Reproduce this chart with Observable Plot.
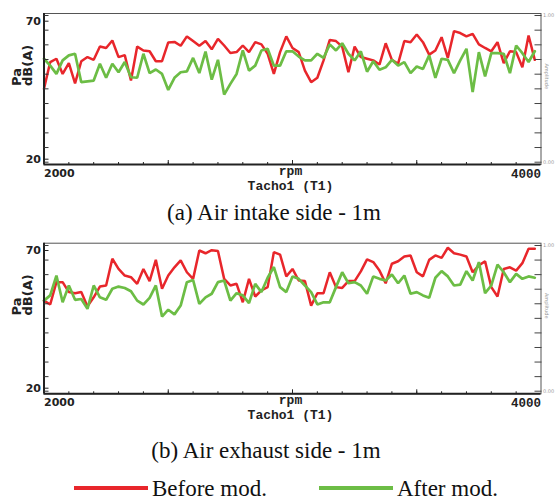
<!DOCTYPE html>
<html><head><meta charset="utf-8">
<script src="https://cdn.jsdelivr.net/npm/d3@7"></script>
<script src="https://cdn.jsdelivr.net/npm/@observablehq/plot@0.6"></script>
<style>
body{margin:0;background:#fff;}
#wrap{position:relative;width:556px;height:503px;overflow:hidden;background:#fff;}
.panel{position:absolute;left:0;}
.cap{position:absolute;left:0;width:556px;text-align:center;font-family:"Liberation Serif","Times New Roman",serif;font-size:23px;line-height:26px;color:#111;}
.leg{position:absolute;font-family:"Liberation Serif","Times New Roman",serif;font-size:23px;line-height:26px;color:#111;}
.legline{position:absolute;height:4px;}
</style></head><body><div id="wrap"></div>
<script>
const rpm = [2000,2025,2050,2075,2100,2125,2150,2175,2200,2225,2250,2275,2300,2325,2350,2375,2400,2425,2450,2475,2500,2525,2550,2575,2600,2625,2650,2675,2700,2725,2750,2775,2800,2825,2850,2875,2900,2925,2950,2975,3000,3025,3050,3075,3100,3125,3150,3175,3200,3225,3250,3275,3300,3325,3350,3375,3400,3425,3450,3475,3500,3525,3550,3575,3600,3625,3650,3675,3700,3725,3750,3775,3800,3825,3850,3875,3900,3925,3950,3975];
const intakeBefore = [45.5,55.2,56.4,50.9,54.8,47.5,55.5,57.0,56.0,60.8,60.3,63.0,57.0,57.7,48.5,60.8,59.4,59.1,55.5,55.5,62.3,62.5,61.1,64.5,62.8,61.1,62.8,59.8,63.6,61.2,58.5,58.8,61.2,58.8,62.4,61.6,58.2,50.9,58.8,64.5,60.3,58.8,52.1,47.9,49.5,55.8,63.2,62.8,60.8,51.5,60.8,57.0,56.4,55.8,54.3,62.0,56.0,54.6,62.8,62.4,65.2,62.4,57.9,59.4,64.2,56.7,66.4,65.7,64.5,65.4,61.6,60.3,59.1,62.4,54.8,59.1,58.8,53.3,64.8,56.0];
const intakeAfter = [56.4,53.9,50.9,55.8,57.6,58.2,47.9,48.2,48.5,54.6,49.5,54.6,51.5,55.2,49.7,49.5,58.2,51.2,52.5,50.9,45.1,49.5,51.5,51.8,56.7,51.2,59.0,48.8,56.0,43.4,47.3,50.9,59.4,52.1,53.9,59.4,60.0,53.9,53.9,59.1,59.1,57.2,55.8,55.8,58.2,56.7,61.6,59.4,62.0,58.2,55.8,59.1,51.7,55.5,52.4,53.3,56.0,53.9,55.2,51.2,53.6,52.7,57.6,49.5,56.4,56.0,51.2,55.8,60.0,44.3,58.8,50.0,58.4,58.4,58.2,51.2,61.2,58.4,55.2,59.1];
const exhaustBefore = [51.8,50.4,58.5,58.5,54.9,54.5,54.9,49.7,53.0,56.9,57.3,67.0,63.3,60.9,60.3,57.9,63.3,58.9,66.6,56.1,60.9,63.9,66.4,62.1,59.7,70.0,69.0,70.1,69.8,59.7,57.3,57.9,51.2,59.7,53.3,55.5,56.7,69.4,68.5,60.6,63.3,59.1,58.9,50.0,54.5,54.5,62.1,56.7,56.4,58.9,58.9,62.4,66.8,65.8,62.7,58.1,65.2,66.1,67.8,68.2,62.1,60.6,66.6,68.2,67.3,71.0,69.0,68.5,67.8,62.1,64.6,66.1,56.7,53.3,63.3,63.9,62.7,65.4,70.6,70.6];
const exhaustAfter = [51.8,53.7,60.9,51.2,57.3,52.1,52.4,48.8,57.3,53.0,52.1,56.1,56.9,56.4,55.2,51.8,50.4,52.8,57.3,46.0,48.5,46.8,50.0,58.5,59.3,50.6,53.0,54.3,58.5,59.1,51.8,54.5,53.7,50.9,57.9,54.9,60.1,64.0,56.7,54.9,60.6,59.7,57.3,54.9,50.4,51.2,51.2,56.7,62.1,58.1,58.5,57.3,54.3,60.6,59.7,59.1,61.3,58.1,60.9,54.3,54.9,53.7,52.8,60.1,62.5,60.6,57.3,57.6,62.5,59.1,65.8,54.5,57.3,64.9,62.1,58.5,61.5,59.7,60.6,60.1];

const seriesNames = ["Before mod.", "After mod."];
const seriesColors = ["#e8262b", "#6cbd45"];
const captions = ["(a) Air intake side - 1m", "(b) Air exhaust side - 1m"];
const yTickLabels = [70, 20];
const xTickLabels = [2000, 4000];
const xMinorTicks = [2100,2200,2300,2400,2500,2600,2700,2800,2900,3000,3100,3200,3300,3400,3500,3600,3700,3800,3900];
const xMajorTicks = [2500,3000,3500];
const ampTicks = [0,0.1,0.2,0.3,0.4,0.5,0.6,0.7,0.8,0.9,1];
const ampLabels = ["0.00","1.00"];
const yAxisTitle = "Pa\ndB(A)";
const xAxisTitle = ["rpm", "Tacho1 (T1)"];
const ampTitle = "Amplitude";

const W = 556, H = 200;
const geoms = [
  {top: 0, frameTop: 13, frameBottom: 164, y70: 20.7, y20: 158.7, amp1: 15, amp0: 161.7},
  {top: 230, frameTop: 12.7, frameBottom: 163.3, y70: 20, y20: 157.7, amp1: 15, amp0: 160.7}
];

function makePanel(g, before, after) {
  const dbAt = p => 70 - (p - g.y70) * 50 / (g.y20 - g.y70);
  const yDomain = [dbAt(g.frameBottom), dbAt(g.frameTop)];
  const ampToDb = a => dbAt(g.amp0 + (g.amp1 - g.amp0) * a);
  const data = rpm.map((r, i) => ({r, before: before[i], after: after[i]}));
  const sans = "DejaVu Sans";
  const mono = "Liberation Mono";
  return Plot.plot({
    width: W, height: H,
    marginLeft: 43.5, marginRight: 15.5, marginTop: g.frameTop, marginBottom: H - g.frameBottom,
    x: {domain: [xTickLabels[0], xTickLabels[1]], label: null},
    y: {domain: yDomain, label: null},
    style: {background: "transparent", overflow: "visible"},
    marks: [
      Plot.line(data, {x: "r", y: "before", stroke: seriesColors[0], strokeWidth: 2.5, strokeLinejoin: "miter"}),
      Plot.line(data, {x: "r", y: "after", stroke: seriesColors[1], strokeWidth: 2.7, strokeLinejoin: "miter"}),
      Plot.frame({stroke: "#555", strokeWidth: 1}),
      Plot.ruleX([xTickLabels[0]], {stroke: "#222", strokeWidth: 2}),
      Plot.ruleY([yDomain[0]], {stroke: "#222", strokeWidth: 2}),
      Plot.axisX({ticks: xMinorTicks, tickSize: -2, tickFormat: () => "", label: null, stroke: "#222"}),
      Plot.axisX({ticks: xMajorTicks, tickSize: -4, tickFormat: () => "", label: null, stroke: "#222"}),
      Plot.axisY({ticks: ampTicks.map(ampToDb), tickSize: -5, tickFormat: () => "", label: null, stroke: "#333"}),
      Plot.axisY({ticks: yTickLabels, tickSize: -5, tickFormat: () => "", label: null, stroke: "#222"}),
      Plot.axisY({ticks: yTickLabels, tickSize: 0, tickPadding: 3, label: null, fontFamily: sans, fontWeight: "bold", fontSize: 11, fill: "#222"}),
      Plot.axisY({anchor: "right", ticks: ampTicks.map(ampToDb), tickSize: -7, tickFormat: () => "", label: null, stroke: "#444"}),
      Plot.axisY({anchor: "right", ticks: [ampToDb(0), ampToDb(1)], tickSize: 0, tickPadding: 2,
        tickFormat: d => (Math.abs(d - ampToDb(1)) < 0.01 ? ampLabels[1] : ampLabels[0]),
        label: null, fontSize: 5, fill: "#999", fontFamily: sans}),
      Plot.text([ampTitle], {frameAnchor: "right", rotate: 90, dx: 6, fontSize: 5, fill: "#999", fontFamily: sans}),
      Plot.text([xTickLabels[0]], {x: d => d, frameAnchor: "bottom", textAnchor: "start", lineAnchor: "middle", dy: 9, text: d => String(d), fontFamily: sans, fontWeight: "bold", fontSize: 11, fill: "#222"}),
      Plot.text([xTickLabels[1]], {x: d => d, frameAnchor: "bottom", textAnchor: "end", lineAnchor: "middle", dy: 9.5, text: d => String(d), fontFamily: mono, fontWeight: "bold", fontSize: 12.5, fill: "#222"}),
      Plot.text([xAxisTitle[0]], {frameAnchor: "bottom", dx: -2, dy: 6, lineAnchor: "middle", fontFamily: mono, fontWeight: "bold", fontSize: 13, fill: "#222"}),
      Plot.text([xAxisTitle[1]], {frameAnchor: "bottom", dx: -2, dy: 21.5, lineAnchor: "middle", fontFamily: mono, fontWeight: "bold", fontSize: 13, fill: "#222"}),
      Plot.text([yAxisTitle], {frameAnchor: "left", rotate: -90, dx: -21, dy: -3, lineHeight: 0.85, fontFamily: sans, fontWeight: "bold", fontSize: 13, fill: "#222"})
    ]
  });
}

const wrap = document.getElementById("wrap");
const panels = [[intakeBefore, intakeAfter], [exhaustBefore, exhaustAfter]];
panels.forEach(([b, a], i) => {
  const div = document.createElement("div");
  div.className = "panel";
  div.style.top = geoms[i].top + "px";
  div.appendChild(makePanel(geoms[i], b, a));
  wrap.appendChild(div);
});

const capTops = [200, 438];
captions.forEach((c, i) => {
  const d = document.createElement("div");
  d.className = "cap";
  d.style.top = capTops[i] + "px";
  d.style.left = (i === 0 ? -4 : -12) + "px";
  d.textContent = c;
  wrap.appendChild(d);
});

const legX = [[74, 152], [319, 397]];
seriesNames.forEach((n, i) => {
  const ln = document.createElement("div");
  ln.className = "legline";
  ln.style.left = legX[i][0] + "px";
  ln.style.width = (legX[i][1] - legX[i][0] - 4) + "px";
  ln.style.top = "486px";
  ln.style.background = seriesColors[i];
  wrap.appendChild(ln);
  const t = document.createElement("div");
  t.className = "leg";
  t.style.left = legX[i][1] + "px";
  t.style.top = "476px";
  t.textContent = n;
  wrap.appendChild(t);
});
</script></body></html>
